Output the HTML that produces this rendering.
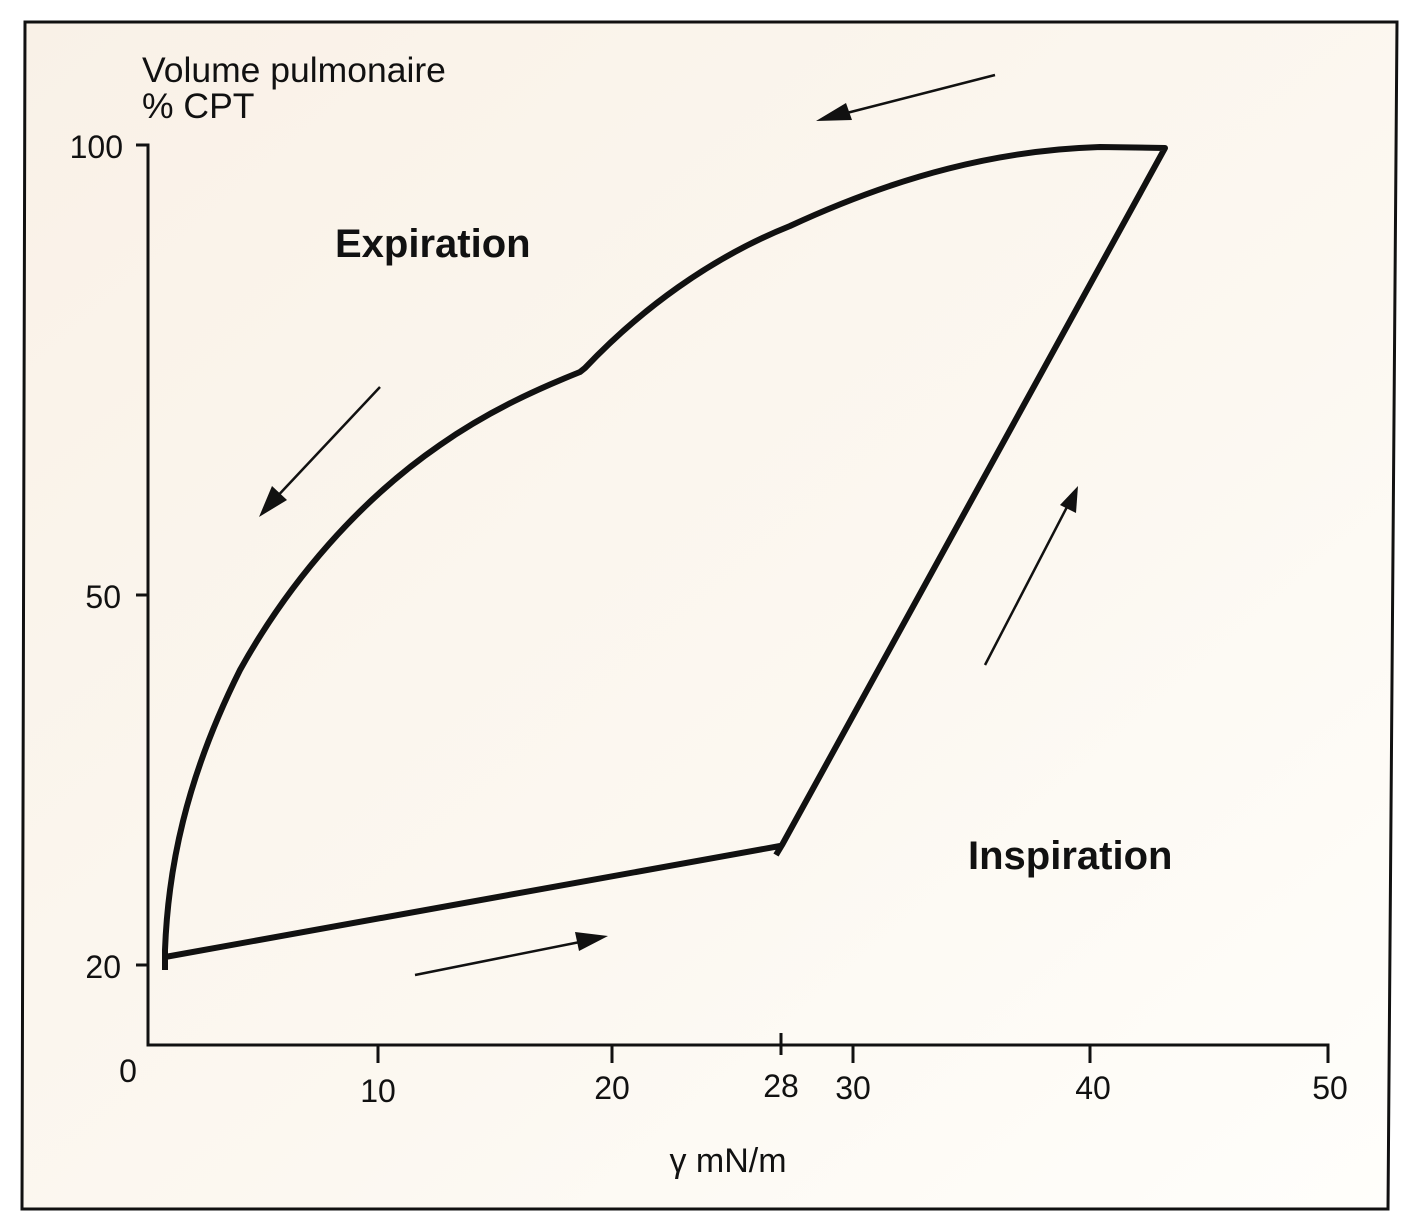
<!DOCTYPE html>
<html><head><style>
html,body{margin:0;padding:0;background:#fff;}
svg{display:block;}
text{font-family:"Liberation Sans",sans-serif;fill:#111;}
</style></head><body>
<svg width="1412" height="1224" viewBox="0 0 1412 1224">
<defs>
<linearGradient id="g" x1="0" y1="0" x2="1" y2="1">
<stop offset="0" stop-color="#f9f1e7"/><stop offset="0.6" stop-color="#fcf8f1"/><stop offset="1" stop-color="#fffefb"/>
</linearGradient>
</defs>
<polygon points="25,22 1397,22 1388,1209 22,1209" fill="url(#g)" stroke="#111" stroke-width="3"/>
<text x="142" y="82" font-size="35.5">Volume pulmonaire</text>
<text x="142" y="118" font-size="35.5">% CPT</text>
<g stroke="#111" stroke-width="3" fill="none">
<polyline points="136,145 148,145 148,1045 1328,1045 1328,1063"/>
<line x1="136" y1="595" x2="148" y2="595"/>
<line x1="136" y1="965" x2="148" y2="965"/>
<line x1="378" y1="1045" x2="378" y2="1063"/>
<line x1="612" y1="1045" x2="612" y2="1063"/>
<line x1="853" y1="1045" x2="853" y2="1063"/>
<line x1="1090" y1="1045" x2="1090" y2="1063"/>
<line x1="781" y1="1033" x2="781" y2="1055"/>
</g>
<g font-size="32">
<text x="123" y="158" text-anchor="end">100</text>
<text x="121" y="608" text-anchor="end">50</text>
<text x="121" y="978" text-anchor="end">20</text>
<text x="128" y="1082" text-anchor="middle">0</text>
<text x="378" y="1102" text-anchor="middle">10</text>
<text x="612" y="1099" text-anchor="middle">20</text>
<text x="781" y="1097" text-anchor="middle">28</text>
<text x="853" y="1099" text-anchor="middle">30</text>
<text x="1093" y="1099" text-anchor="middle">40</text>
<text x="1330" y="1099" text-anchor="middle">50</text>
<text x="728" y="1172" text-anchor="middle" font-size="34">γ mN/m</text>
</g>
<text x="335" y="257" font-size="40" font-weight="bold">Expiration</text>
<text x="968" y="869" font-size="40" font-weight="bold">Inspiration</text>
<path d="M165,970 L165,950 C168,870 185,780 240,670 C290,580 360,500 440,445 C490,410 540,388 580,372 L585,368 C640,310 710,258 790,226 C900,175 1000,150 1100,147 L1165,148 L782,845 L776,855 M780,846 L165,957" fill="none" stroke="#111" stroke-width="6" stroke-linejoin="round"/>
<g stroke="#111" stroke-width="2.5">
<line x1="995" y1="75" x2="835" y2="116"/>
<line x1="380" y1="387" x2="272" y2="502"/>
<line x1="415" y1="975" x2="590" y2="940"/>
<line x1="985" y1="665" x2="1068" y2="505"/>
</g>
<g fill="#111">
<polygon points="816,121 846,103 852,120"/>
<polygon points="259,517 272,486 287,500"/>
<polygon points="608,936 575,932 579,951"/>
<polygon points="1078,486 1060,505 1076,513"/>
</g>
</svg>
</body></html>
